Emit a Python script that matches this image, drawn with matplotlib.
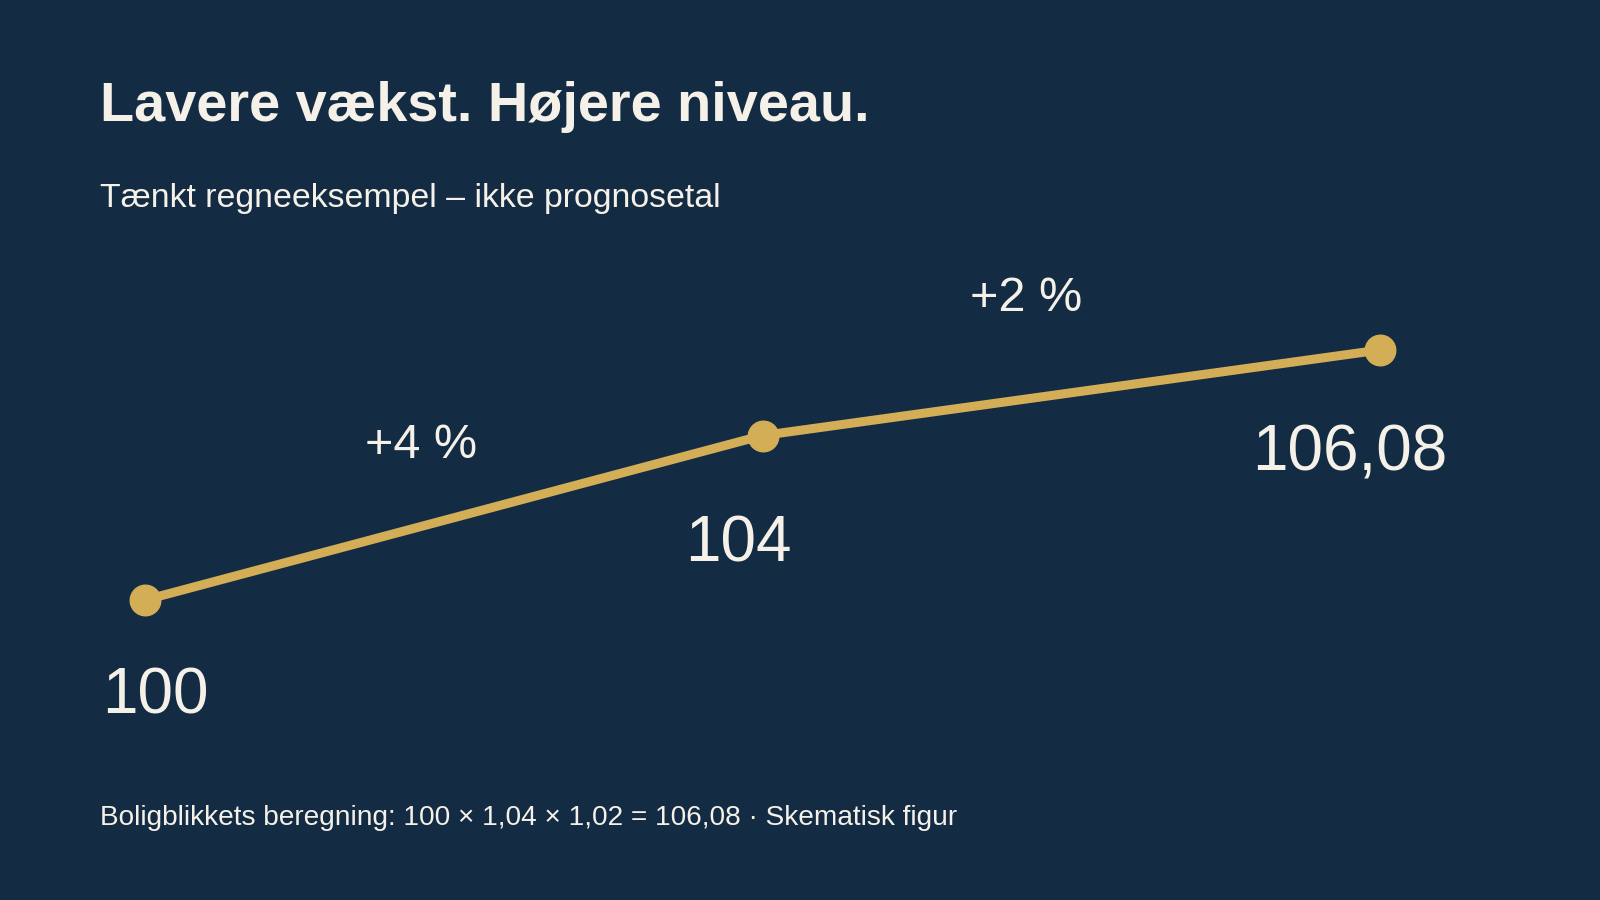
import matplotlib
matplotlib.use("Agg")
import matplotlib.pyplot as plt

# data
steps = [0, 1, 2]
values = [100, 104, 106.08]
value_labels = ["100", "104", "106,08"]
growth_labels = ["+4 %", "+2 %"]

title = "Lavere vækst. Højere niveau."
subtitle = "Tænkt regneeksempel – ikke prognosetal"
footer = "Boligblikkets beregning: 100 × 1,04 × 1,02 = 106,08 · Skematisk figur"

bg = "#132c44"
gold = "#d4ae57"
text_col = "#f5f1e8"

plt.rcParams['font.family'] = ['Liberation Sans', 'DejaVu Sans']

fig = plt.figure(figsize=(16, 9), dpi=100, facecolor=bg)
ax = fig.add_axes([0, 0, 1, 1])
ax.set_facecolor(bg)
ax.axis('off')

# map data into the canvas: x=0 at 145 px, x=2 at 1380 px
px_x = (1380 - 145) / 2
ax.set_xlim(-145 / px_x, (1600 - 145) / px_x)
# y: 100 near 600 px from top, 106.08 near 350 px from top
px_y = (600 - 350) / (values[2] - values[0])
ax.set_ylim(values[0] - (900 - 600) / px_y, values[2] + 350 / px_y)

ax.plot(steps, values, color=gold, lw=6.5, solid_capstyle='round',
        marker='o', markersize=22, zorder=3)

# value labels under each point
label_dx = [10, -24, -30]
label_dy = [-113, -126, -120]
for x, v, lab, dx, dy in zip(steps, values, value_labels, label_dx, label_dy):
    ax.annotate(lab, (x, v), xytext=(dx, dy), textcoords='offset pixels',
                ha='center', va='baseline', fontsize=46, color=text_col)

# growth labels above each segment
growth_dx = [-33, -45]
growth_dy = [60, 82]
for i, lab in enumerate(growth_labels):
    xm = (steps[i] + steps[i + 1]) / 2
    ym = (values[i] + values[i + 1]) / 2
    ax.annotate(lab, (xm, ym), xytext=(growth_dx[i], growth_dy[i]),
                textcoords='offset pixels', ha='center', va='baseline',
                fontsize=35, color=text_col)

fig.text(100 / 1600, 1 - 121 / 900, title, fontsize=40.2, fontweight='bold',
         color=text_col, va='baseline')
fig.text(100 / 1600, 1 - 207 / 900, subtitle, fontsize=24.4,
         color=text_col, va='baseline')
fig.text(100 / 1600, 1 - 825 / 900, footer, fontsize=20.2,
         color=text_col, va='baseline')

fig.savefig("out.png", dpi=100, facecolor=bg)
